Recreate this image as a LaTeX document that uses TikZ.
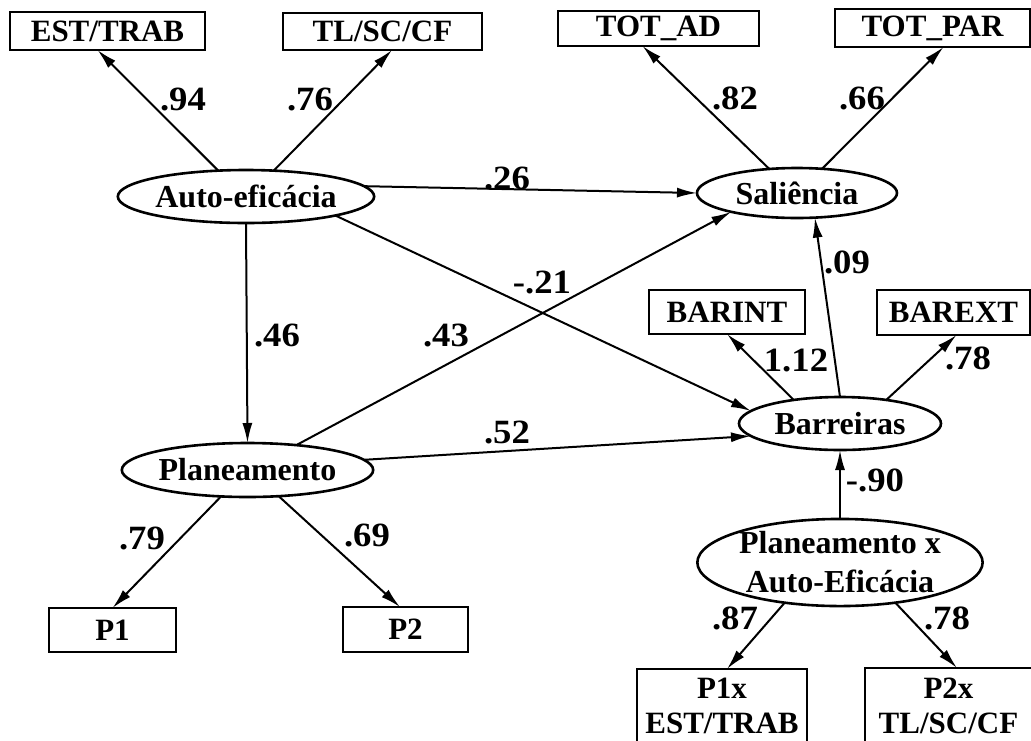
\documentclass[tikz,border=0pt]{standalone}
\usepackage{fontspec}
\setmainfont{Liberation Serif}
\newfontfamily\boxfont{Liberation Serif}[UprightFont={* Bold}]
\newfontfamily\ovalfont{Liberation Serif}[UprightFont={* Bold}]
\newfontfamily\coeffont{Liberation Serif}[UprightFont={* Bold}, FakeStretch=1.08]
\usetikzlibrary{shapes.geometric,arrows.meta}

\begin{document}
\begin{tikzpicture}[x=1pt,y=-1pt,
  obs/.style={draw, line width=2.8pt, rectangle, inner sep=0pt, outer sep=0pt,
    align=center, font=\boxfont\fontsize{31}{35}\selectfont},
  lat/.style={draw, line width=2.6pt, ellipse, inner sep=0pt, outer sep=0pt,
    align=center, font=\ovalfont\fontsize{32}{39}\selectfont},
  coef/.style={inner sep=0pt, font=\coeffont\fontsize{34}{36}\selectfont},
  link/.style={line width=2pt, -{Latex[length=20pt,width=10pt]}},
]
\useasboundingbox (0,0) rectangle (1031,740);
\clip (0,0) rectangle (1031,740);

% observed indicators
\node[obs, minimum width=195pt, minimum height=38pt] (est)    at (107.5,31)  {EST/TRAB};
\node[obs, minimum width=199pt, minimum height=37pt] (tlsc)   at (382.5,31.5) {TL/SC/CF};
\node[obs, minimum width=201pt, minimum height=35pt] (totad)  at (658.5,28.5) {TOT\_AD};
\node[obs, minimum width=195pt, minimum height=38pt] (totpar) at (932.5,28)  {TOT\_PAR};
\node[obs, minimum width=156pt, minimum height=44pt] (barint) at (727,312)   {BARINT};
\node[obs, minimum width=153pt, minimum height=45pt] (barext) at (953.5,312.5) {BAREXT};
\node[obs, minimum width=127pt, minimum height=44pt] (p1)     at (112.5,630) {P1};
\node[obs, minimum width=125pt, minimum height=45pt] (p2)     at (405.5,629.5) {P2};
\node[obs, minimum width=170pt, minimum height=73pt] (p1x)    at (722,705.5) {P1x\\EST/TRAB};
\node[obs, minimum width=167pt, minimum height=75pt] (p2x)    at (948.5,705.5) {P2x\\TL/SC/CF};

% latent factors
\node[lat, minimum width=202pt, minimum height=53pt] (auto) at (246,196.5) {Auto-eficácia};
\node[lat, minimum width=200pt, minimum height=50pt] (sal)  at (797,193)   {Saliência};
\node[lat, minimum width=201pt, minimum height=54pt] (plan) at (247.5,470) {Planeamento};
\node[lat, minimum width=202pt, minimum height=53pt] (bar)  at (840,423.5) {Barreiras};
\node[lat, minimum width=241pt, minimum height=79pt] (pxa)  at (840,562.5) {Planeamento x\\Auto-Eficácia};

% measurement paths
\draw[link] (auto.137) -- ([xshift=-10pt]est.south);
\draw[link] (auto.43)  -- ([xshift=9.5pt]tlsc.south);
\draw[link] (sal.139)  -- ([xshift=-16pt]totad.south);
\draw[link] (sal.44)   -- ([xshift=11pt]totpar.south);
\draw[link] (bar.153)  -- (barint.south);
\draw[link] (bar.27)   -- ([xshift=3pt]barext.south);
\draw[link] (plan.225) -- (p1.north);
\draw[link] (plan.320) -- ([xshift=-5.5pt]p2.north);
\draw[link] (pxa.216)  -- ([xshift=5pt]p1x.north);
\draw[link] (pxa.324)  -- ([xshift=8.5pt]p2x.north);

% structural paths
\draw[link] (auto.5)   -- (sal.west);
\draw[link] (auto.348) -- (bar.172);
\draw[link] (auto.south) -- (plan.north);
\draw[link] (plan.27)  -- (sal.196);
\draw[link] (plan.5)   -- (bar.188);
\draw[link] (bar.north) -- (sal.306);
\draw[link] (pxa.north) -- (bar.south);

% coefficients
\node[coef] (c94)  at (183,99)  {.94};
\node[coef] (c76)  at (310,99)  {.76};
\node[coef] (c82)  at (735,98)  {.82};
\node[coef] (c66)  at (862,98)  {.66};
\node[coef] (c26)  at (507,178) {.26};
\node[coef] (c21)  at (542,282) {-.21};
\node[coef] (c46)  at (277,335) {.46};
\node[coef] (c43)  at (446,335) {.43};
\node[coef] (c52)  at (507,432) {.52};
\node[coef] (c09)  at (847,262) {.09};
\node[coef] (c112) at (796,360) {1.12};
\node[coef] (c78a) at (968,358) {.78};
\node[coef] (c90)  at (875,480) {-.90};
\node[coef] (c79)  at (142,538) {.79};
\node[coef] (c69)  at (367,535) {.69};
\node[coef] (c87)  at (735,618) {.87};
\node[coef] (c78b) at (947,618) {.78};
\end{tikzpicture}
\end{document}
